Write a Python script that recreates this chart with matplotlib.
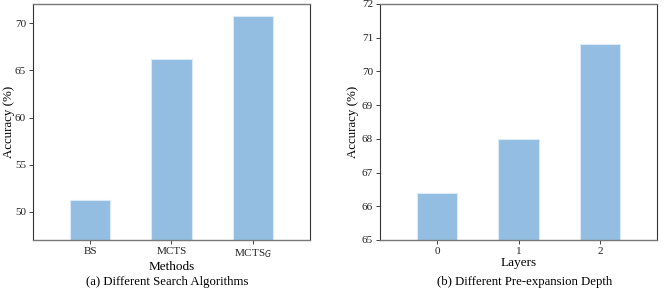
import matplotlib.pyplot as plt

plt.rcParams['font.family'] = ['Liberation Serif', 'DejaVu Serif']
plt.rcParams['font.size'] = 8

methods = ['BS', 'MCTS', 'MCTS$_G$']
method_acc = [51.2, 66.2, 70.8]

layers = ['0', '1', '2']
layer_acc = [66.4, 68.0, 70.8]

bar_color = '#93bee1'
W, H = 664, 297

fig = plt.figure(figsize=(W / 100, H / 100), dpi=100)

# left panel: search algorithms
ax1 = fig.add_axes([33 / W, 1 - 240 / H, 277 / W, 236 / H])
ax1.bar(range(3), method_acc, width=0.5, color=bar_color, edgecolor='#dbeaf6', linewidth=0.8)
ax1.set_xticks(range(3))
ax1.set_xticklabels(methods)
ax1.set_xlim(-0.7, 2.7)
ax1.set_ylim(47, 72.05)
ax1.set_yticks([50, 55, 60, 65, 70])
ax1.set_xlabel('Methods', fontsize=9.5, labelpad=1)
ax1.set_ylabel('Accuracy (%)', fontsize=9.3)
ax1.yaxis.set_label_coords(-0.066, 0.5)

# right panel: pre-expansion depth
ax2 = fig.add_axes([380 / W, 1 - 240 / H, 277 / W, 236 / H])
ax2.bar(range(3), layer_acc, width=0.5, color=bar_color, edgecolor='#dbeaf6', linewidth=0.8)
ax2.set_xticks(range(3))
ax2.set_xticklabels(layers)
ax2.set_xlim(-0.7, 2.7)
ax2.set_ylim(65, 72)
ax2.set_yticks(range(65, 73))
ax2.set_xlabel('Layers', fontsize=9.5, labelpad=1)
ax2.set_ylabel('Accuracy (%)', fontsize=9.3)
ax2.yaxis.set_label_coords(-0.077, 0.5)

for ax in (ax1, ax2):
    for side in ('left', 'right'):
        ax.spines[side].set_color('#333333')
        ax.spines[side].set_linewidth(0.8)
    for side in ('top', 'bottom'):
        ax.spines[side].set_color('#777777')
        ax.spines[side].set_linewidth(1.0)
    ax.tick_params(length=3, width=0.6, pad=2, colors='#222222')

fig.text(167 / W, 1 - 282 / H, '(a) Different Search Algorithms', ha='center', va='center', fontsize=9.2)
fig.text(525 / W, 1 - 282 / H, '(b) Different Pre-expansion Depth', ha='center', va='center', fontsize=9.2)

fig.savefig('out.png', dpi=100)
